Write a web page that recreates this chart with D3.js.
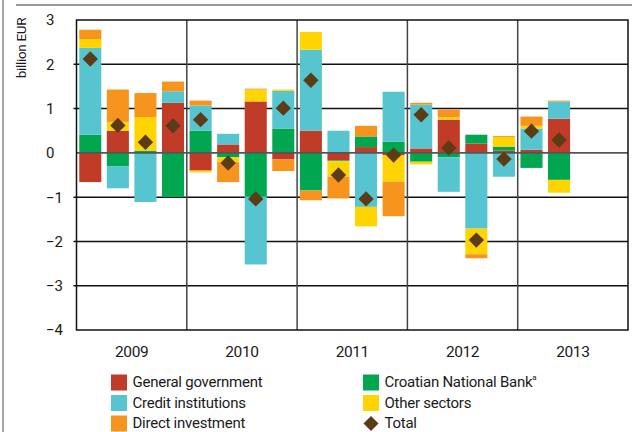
<!DOCTYPE html>
<html>
<head>
<meta charset="utf-8">
<script src="https://cdn.jsdelivr.net/npm/d3@7"></script>
<style>
  html, body { margin: 0; padding: 0; background: #fff; }
  svg { display: block; }
  text { font-family: "Liberation Sans Narrow", "Arial Narrow", "Roboto", sans-serif; fill: #1a1a1a; }
</style>
</head>
<body>
<svg id="chart" width="632" height="432"></svg>
<script>
const years = ["2009", "2010", "2011", "2012", "2013"];
const quarters = ["2009Q1","2009Q2","2009Q3","2009Q4","2010Q1","2010Q2","2010Q3","2010Q4",
                  "2011Q1","2011Q2","2011Q3","2011Q4","2012Q1","2012Q2","2012Q3","2012Q4",
                  "2013Q1","2013Q2"];
const yTicks = [3, 2, 1, 0, -1, -2, -3, -4];

const generalGovernment  = [-0.66, 0.50, 0.02, 1.13, -0.40, 0.19, 1.16, -0.15, 0.50, -0.17, 0.13, -0.05, 0.10, 0.75, 0.21, 0.05, 0.07, 0.77];
const croatianNationalBank = [0.41, -0.30, 0.03, -1.00, 0.50, -0.10, -0.99, 0.55, -0.85, -0.02, 0.24, 0.25, -0.20, -0.10, 0.20, 0.09, -0.34, -0.61];
const creditInstitutions = [1.96, -0.50, -1.11, 0.26, 0.57, 0.24, -1.53, 0.85, 1.83, 0.50, -1.22, 1.13, 0.99, -0.78, -1.71, -0.54, 0.48, 0.39];
const otherSectors       = [0.20, 0.20, 0.76, 0.00, -0.04, -0.11, 0.27, 0.03, 0.40, -0.35, -0.44, -0.60, -0.06, 0.05, -0.58, 0.22, 0.06, -0.29];
const directInvestment   = [0.21, 0.73, 0.54, 0.22, 0.11, -0.45, 0.02, -0.26, -0.22, -0.49, 0.24, -0.78, 0.04, 0.18, -0.09, 0.02, 0.21, 0.02];
const total              = [2.12, 0.62, 0.24, 0.61, 0.75, -0.23, -1.04, 1.01, 1.64, -0.50, -1.04, -0.05, 0.86, 0.11, -1.97, -0.14, 0.49, 0.29];

const seriesNames = {
  gg: "General government",
  ci: "Credit institutions",
  di: "Direct investment",
  cnb: "Croatian National Bank",
  os: "Other sectors"
};
const colors = { gg: "#c13b29", ci: "#56c5d0", di: "#f7941e", cnb: "#00a650", os: "#ffd400", total: "#5c3b17" };
const stackOrder = ["gg", "cnb", "ci", "os", "di"];

const table = quarters.map((q, i) => ({
  q: q,
  gg: generalGovernment[i],
  cnb: croatianNationalBank[i],
  ci: creditInstitutions[i],
  os: otherSectors[i],
  di: directInvestment[i],
  total: total[i]
}));

const svg = d3.select("#chart");
const plotLeft = 76.5, plotRight = 628, plotTop = 20, plotBottom = 330;

const slots = years.flatMap(yr => [1, 2, 3, 4].map(k => yr + "Q" + k));
const x = d3.scaleBand().domain(slots).range([plotLeft, plotRight]).paddingInner(0.2).paddingOuter(0.1);
const xYear = d3.scaleBand().domain(years).range([plotLeft, plotRight]);
const y = d3.scaleLinear().domain([-4, 3]).range([plotBottom, plotTop]);

// page frame
svg.append("line").attr("x1", 3).attr("x2", 3).attr("y1", 0).attr("y2", 432)
  .attr("stroke", "#888").attr("stroke-width", 1.5);
svg.append("line").attr("x1", 16).attr("x2", 632).attr("y1", 5).attr("y2", 5)
  .attr("stroke", "#777").attr("stroke-width", 1.5);

// gridlines
svg.append("g").selectAll("line").data(yTicks.filter(t => t !== 0 && t !== 3 && t !== -4)).join("line")
  .attr("x1", plotLeft - 3).attr("x2", plotRight)
  .attr("y1", d => y(d)).attr("y2", d => y(d))
  .attr("stroke", "#111").attr("stroke-width", 1.5);

// year separators
svg.append("g").selectAll("line").data(years.slice(1)).join("line")
  .attr("x1", d => xYear(d)).attr("x2", d => xYear(d))
  .attr("y1", plotTop).attr("y2", plotBottom)
  .attr("stroke", "#444").attr("stroke-width", 1.5);

// stacked bars
const stack = d3.stack().keys(stackOrder).offset(d3.stackOffsetDiverging);
const stacked = stack(table);
svg.append("g").selectAll("g").data(stacked).join("g")
  .attr("fill", s => colors[s.key])
  .selectAll("rect").data(s => s).join("rect")
  .attr("x", d => x(d.data.q))
  .attr("width", x.bandwidth())
  .attr("y", d => y(Math.max(d[0], d[1])))
  .attr("height", d => Math.abs(y(d[0]) - y(d[1])));

// zero line
svg.append("line").attr("x1", plotLeft).attr("x2", plotRight).attr("y1", y(0)).attr("y2", y(0))
  .attr("stroke", "#555").attr("stroke-width", 1.6);

// plot border
svg.append("rect").attr("x", plotLeft).attr("y", plotTop)
  .attr("width", plotRight - plotLeft).attr("height", plotBottom - plotTop)
  .attr("fill", "none").attr("stroke", "#111").attr("stroke-width", 1.5);

// total diamonds
const diamond = d3.symbol().type(d3.symbolSquare).size(118);
svg.append("g").selectAll("path").data(table).join("path")
  .attr("d", diamond)
  .attr("transform", d => `translate(${x(d.q) + x.bandwidth() / 2},${y(d.total)}) rotate(45)`)
  .attr("fill", colors.total);

// y tick labels
svg.append("g").selectAll("text").data(yTicks).join("text")
  .attr("x", 46).attr("y", d => y(d)).attr("dy", "0.36em")
  .attr("font-size", 15)
  .text(d => d < 0 ? "\u2212" + Math.abs(d) : String(d));

// y axis title
svg.append("text")
  .attr("transform", "translate(26,48) rotate(-90)")
  .attr("text-anchor", "middle").attr("font-size", 13.5).attr("letter-spacing", -0.3)
  .text("billion EUR");

// year labels
svg.append("g").selectAll("text").data(years).join("text")
  .attr("x", d => xYear(d) + xYear.bandwidth() / 2).attr("y", 357)
  .attr("text-anchor", "middle").attr("font-size", 15.5).attr("letter-spacing", -0.4)
  .text(d => d);

// legend
const legendItems = [
  { key: "gg", col: 0, row: 0 },
  { key: "ci", col: 0, row: 1 },
  { key: "di", col: 0, row: 2 },
  { key: "cnb", col: 1, row: 0 },
  { key: "os", col: 1, row: 1 },
  { key: "total", col: 1, row: 2 }
];
const colX = [111, 363];
const lg = svg.append("g").selectAll("g").data(legendItems).join("g")
  .attr("transform", d => `translate(${colX[d.col]},${374.5 + d.row * 20.5})`);
lg.filter(d => d.key !== "total").append("rect")
  .attr("width", 16).attr("height", 16).attr("fill", d => colors[d.key]);
lg.filter(d => d.key === "total").append("path")
  .attr("d", d3.symbol().type(d3.symbolSquare).size(112))
  .attr("transform", "translate(8,8) rotate(45)")
  .attr("fill", colors.total);
const lt = lg.append("text").attr("x", 21.5).attr("y", 12.5)
  .attr("font-size", 15).attr("letter-spacing", -0.25);
lt.append("tspan").text(d => d.key === "total" ? "Total" : seriesNames[d.key]);
lt.filter(d => d.key === "cnb").append("tspan")
  .attr("font-size", 8).attr("dy", -7).text("a");
</script>
</body>
</html>
